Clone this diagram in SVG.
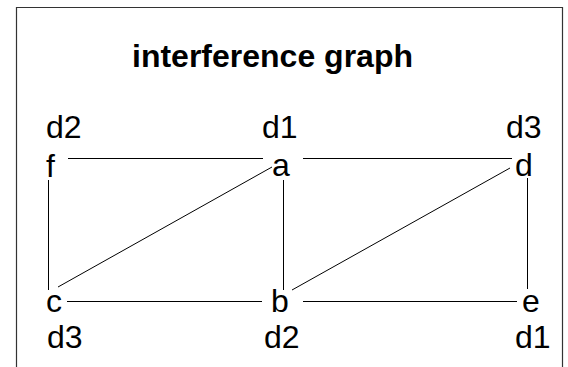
<svg xmlns="http://www.w3.org/2000/svg" width="568" height="367" viewBox="0 0 568 367">
<style>
.t{font-family:"Liberation Sans",Arial,sans-serif;font-size:32px;fill:#000}
.title{font-family:"Liberation Sans",Arial,sans-serif;font-size:32px;font-weight:bold;fill:#000}
.e{stroke:#000;stroke-width:1;fill:none}
</style>
<rect x="0" y="0" width="568" height="367" fill="#fff"/>
<path d="M16.5 367 V7.5 H562.5 V367" fill="none" stroke="#333" stroke-width="1.2"/>
<text class="title" x="132" y="67">interference graph</text>
<g id="connectors">
<line class="e" x1="68" y1="158.5" x2="263" y2="158.5"/>
<line class="e" x1="303" y1="158.5" x2="512" y2="158.5"/>
<line class="e" x1="48.5" y1="180" x2="48.5" y2="290"/>
<line class="e" x1="58" y1="287" x2="272" y2="167"/>
<line class="e" x1="283.5" y1="180" x2="283.5" y2="290"/>
<line class="e" x1="292" y1="290" x2="510" y2="168"/>
<line class="e" x1="527.5" y1="178" x2="527.5" y2="289"/>
<line class="e" x1="67" y1="301.5" x2="262" y2="301.5"/>
<line class="e" x1="303" y1="301.5" x2="517" y2="301.5"/>
</g>
<g id="node-f"><text class="t" x="46" y="138">d2</text><text class="t" x="46" y="177">f</text></g>
<g id="node-a"><text class="t" x="262" y="138">d1</text><text class="t" x="272" y="176">a</text></g>
<g id="node-d"><text class="t" x="506" y="138">d3</text><text class="t" x="515" y="176">d</text></g>
<g id="node-c"><text class="t" x="46" y="312">c</text><text class="t" x="47" y="348">d3</text></g>
<g id="node-b"><text class="t" x="271" y="312">b</text><text class="t" x="264" y="348">d2</text></g>
<g id="node-e"><text class="t" x="522" y="312">e</text><text class="t" x="515" y="348">d1</text></g>
</svg>
